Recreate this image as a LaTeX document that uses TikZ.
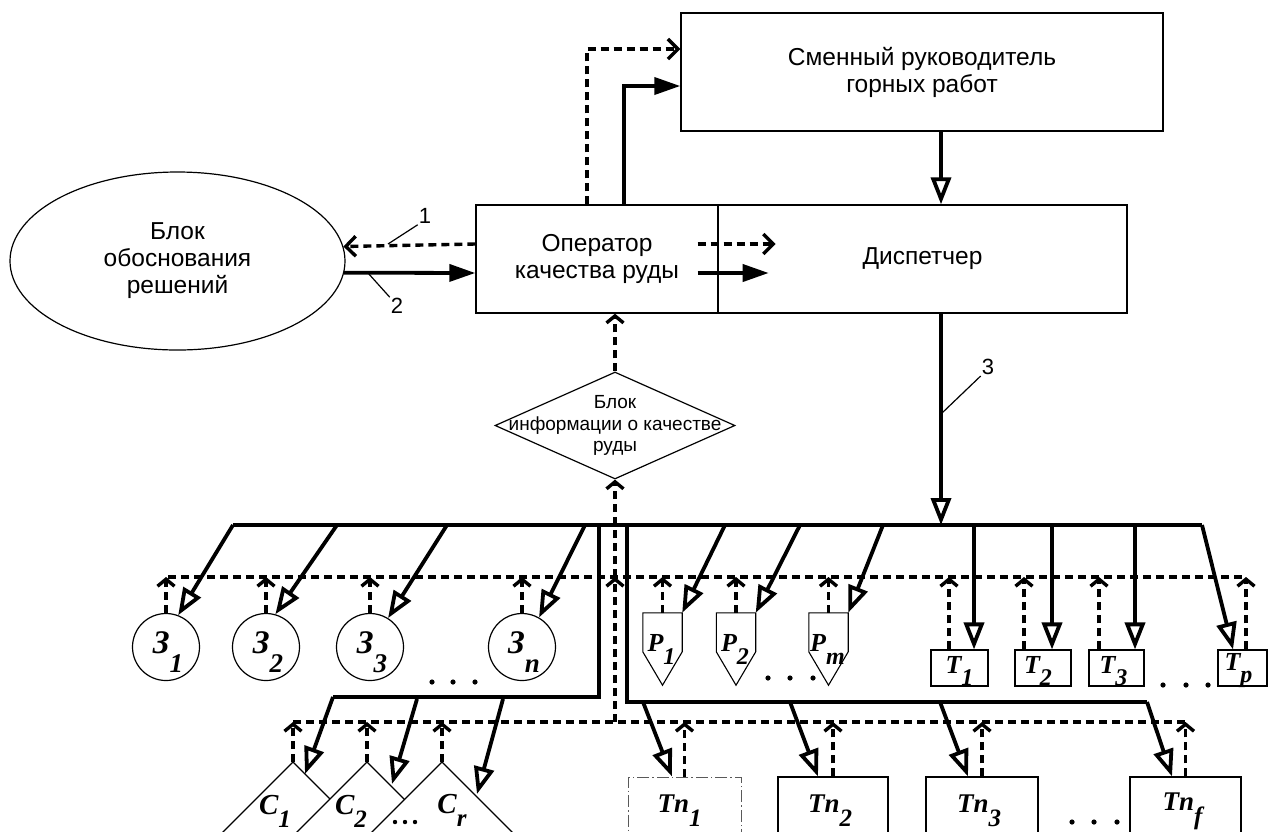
\documentclass[tikz,border=0pt]{standalone}
\usepackage{fontspec}
\setmainfont{Liberation Sans}
\newfontfamily\serif{Liberation Serif}
\usetikzlibrary{arrows.meta,shapes.geometric,calc}
\newcommand\txt{\fontsize{24.5}{27}\selectfont}
\newcommand\dtxt{\fontsize{19}{21.5}\selectfont}
\newcommand\sy[4]{#1\raisebox{-#3}{\fontsize{#4}{#4}\selectfont #2}}
\tikzset{
 box/.style={draw, line width=1.4pt, inner sep=0pt},
 thinbox/.style={draw, line width=1.1pt, inner sep=0pt},
 bus/.style={line width=3.8pt},
 dsh/.style={line width=3.4pt, dash pattern=on 8pt off 5pt},
 otip/.style={-{Triangle[open, length=27pt, width=20pt]}},
 ftip/.style={-{Triangle[length=26pt, width=17pt]}},
 chev/.style={-{Straight Barb[length=10pt, width=20pt]}},
 schev/.style={-{Straight Barb[length=7pt, width=17pt]}},
 lbl/.style={font=\serif\bfseries\itshape\fontsize{#1}{#1}\selectfont, inner sep=0pt},
 leader/.style={line width=1.2pt},
 circ/.style={draw, circle, line width=1.2pt, minimum size=67pt, inner sep=0pt},
 pshape/.style={minimum width=39pt, minimum height=72pt, inner sep=0pt},
}
\begin{document}
\begin{tikzpicture}[x=1pt,y=-1pt]
\useasboundingbox (0,0) rectangle (1268,831);
\clip (0,0) rectangle (1268,831);

% ---------- main blocks ----------
\node[box, minimum width=482pt, minimum height=118pt, align=center, font=\txt] (smr) at (922,72) {Сменный руководитель\\горных работ};
\node[box, minimum width=242pt, minimum height=108pt, align=center, font=\txt] (op) at (597,259) {Оператор\\качества руды};
\node[box, minimum width=409pt, minimum height=108pt, font=\txt] (disp) at (922.5,259) {Диспетчер};
\node[draw, ellipse, line width=1.2pt, minimum width=335pt, minimum height=178pt, inner sep=0pt, align=center, font=\txt] (blk) at (177.5,261) {Блок\\обоснования\\решений};
\node[draw, diamond, line width=1.2pt, minimum width=240pt, minimum height=107pt, inner sep=0pt,
  label={[align=center, font=\dtxt]center:{Блок\\информации о качестве\\руды}}] (info) at (615,425.5) {};

% ---------- bottom objects ----------
\foreach \n/\x/\s in {z1/166/1, z2/266/2, z3/370/3, zn/522/n}
  \node[circ, label={[lbl=33, xshift=2pt, yshift=-5pt]center:\sy{З}{\s}{19pt}{27}}] (\n) at (\x,647) {};

\foreach \n/\x/\s in {p1/662.5/1, p2/736/2, pm/828.5/m}{
  \node[pshape, label={[lbl=26, xshift=-1pt, yshift=0pt]center:\sy{P}{\s}{13pt}{24}}] (\n) at (\x,649) {};
  \draw[line width=1.1pt] (\n.north west) -- (\n.north east) -- ([yshift=-39pt]\n.north east) -- (\n.south) -- ([yshift=-39pt]\n.north west) -- cycle;
}

\node[thinbox, minimum width=57pt, minimum height=36pt, label={[lbl=26, yshift=-3pt]center:\sy{T}{1}{12pt}{24}}] (t1) at (959.5,668) {};
\node[thinbox, minimum width=56pt, minimum height=36pt, label={[lbl=26, xshift=-5pt, yshift=-3pt]center:\sy{T}{2}{12pt}{24}}] (t2) at (1043,668) {};
\node[thinbox, minimum width=55pt, minimum height=36pt, label={[lbl=26, xshift=-3pt, yshift=-3pt]center:\sy{T}{3}{12pt}{24}}] (t3) at (1116.5,668) {};
\node[thinbox, minimum width=49pt, minimum height=36pt, label={[lbl=26, xshift=-4pt, yshift=-3pt]center:\sy{T}{p}{12pt}{24}}] (tp) at (1242.5,668) {};

\node[draw=black!65, line width=1pt, dash pattern=on 12pt off 3pt on 1.5pt off 3pt, inner sep=0pt, minimum width=113pt, minimum height=68pt,
  label={[lbl=27, xshift=-5pt]center:\sy{Tn}{1}{14pt}{25}}] (tn1) at (684.5,811) {};
\node[thinbox, minimum width=110pt, minimum height=68pt, label={[lbl=27, xshift=-3pt]center:\sy{Tn}{2}{14pt}{25}}] (tn2) at (833,811) {};
\node[thinbox, minimum width=112pt, minimum height=68pt, label={[lbl=27, xshift=-3pt]center:\sy{Tn}{3}{14pt}{25}}] (tn3) at (982,811) {};
\node[thinbox, minimum width=111pt, minimum height=68pt, label={[lbl=27, xshift=-3pt]center:\sy{Tn}{f}{14pt}{25}}] (tnf) at (1185.5,811) {};

\coordinate (c1) at (293,762);
\coordinate (c2) at (367,762);
\coordinate (cr) at (442,762);
\foreach \c in {c1,c2,cr}
  \filldraw[fill=white, line width=1.1pt] (\c) -- ++(-120,120) -- ++(240,0) -- cycle;
\node[lbl=29] (lc1) at (275,811) {\sy{C}{1}{13pt}{25}};
\node[lbl=29] (lc2) at (351,811) {\sy{C}{2}{13pt}{25}};
\node[lbl=29] (lcr) at (452,810) {\sy{C}{r}{13pt}{25}};

% ---------- bus coordinates ----------
\coordinate (bL) at (233,525);
\coordinate (bR) at (1202,525);
\coordinate (dcol) at (941,525);
\coordinate (ub) at (168,577);
\coordinate (ubR) at (1246,577);
\coordinate (lb) at (293,722);
\coordinate (lbR) at (1185,722);
\coordinate (llT) at (599,525);
\coordinate (llB) at (599,697);
\coordinate (llL) at (333,697);
\coordinate (lrT) at (627,525);
\coordinate (lrB) at (627,702);
\coordinate (lrR) at (1147,702);
\coordinate (dj) at (615,722);

% ---------- top connectors ----------
\draw[dsh,chev] ([xshift=-10pt]op.north) |- ([yshift=23pt]smr.west);
\draw[bus,ftip] ([xshift=27pt]op.north) |- ([yshift=-14pt]smr.west);
\draw[bus,otip] (smr.south -| dcol) -- (disp.north -| dcol);
\draw[bus,otip] (disp.south -| dcol) -- (dcol);
\draw[dsh,chev] ([shift={(-21pt,15pt)}]op.east) -- ([shift={(57pt,15pt)}]op.east);
\draw[bus,ftip] ([shift={(-21pt,-14pt)}]op.east) -- ([shift={(50pt,-14pt)}]op.east);
\draw[dsh,chev] ([yshift=15pt]op.west) -- (blk.5.9);
\draw[bus,ftip] (blk.-4.1) -- ([yshift=-14pt]op.west);
\draw[dsh,schev] (info.north) -- (info.north |- op.south);

% labels 1 2 3
\node[font=\fontsize{22}{22}\selectfont, inner sep=1pt] (n1) at (425,216) {1};
\node[font=\fontsize{22}{22}\selectfont, inner sep=1pt] (n2) at (397,306) {2};
\node[font=\fontsize{22}{22}\selectfont, inner sep=1pt] (n3) at (988,367) {3};
\coordinate (l1) at (388,244);
\coordinate (l2) at (368,273);
\coordinate (l3) at (942,413);
\draw[leader] (l1) -- (n1.south west);
\draw[leader] (l2) -- (n2.north west);
\draw[leader] (l3) -- (n3.south west);

% ---------- buses ----------
\draw[bus] (bL) -- (bR);
\draw[bus] (llT) -- (llB) -- (llL);
\draw[bus] (lrT) -- (lrB) -- (lrR);

\draw[dsh] (ub) -- (ubR);
\draw[dsh] (lb) -- (lbR);
\draw[dsh,schev] (dj) -- (dj |- ub);
\draw[dsh,schev] (dj |- ub) -- (info.south);

% branches from main bus
\draw[bus,otip] (bL) -- (z1.69);
\foreach \n/\x/\a in {z2/337/74, z3/447/58, zn/585/60}{
  \coordinate (s-\n) at (\x,525);
  \draw[bus,otip] (s-\n) -- (\n.\a);
}
\foreach \n/\x in {p1/725, p2/800, pm/883}{
  \coordinate (s-\n) at (\x,525);
  \draw[bus,otip] (s-\n) -- (\n.north east);
}
\foreach \n/\x in {t1/974, t2/1052, t3/1135}{
  \coordinate (s-\n) at (\x,525);
  \draw[bus,otip] (s-\n) -- (s-\n |- \n.north);
}
\draw[bus,otip] (bR) -- ([xshift=-9.5pt]tp.north);

% branches from lower-left bus
\draw[bus,otip] (llL) -- ($(c1)+(12,12)$);
\coordinate (s-c2) at (417,699);
\coordinate (s-cr) at (503,699);
\draw[bus,otip] (s-c2) -- ($(c2)+(25,22)$);
\draw[bus,otip] (s-cr) -- ($(cr)+(35,32)$);

% branches from lower-right bus
\foreach \n/\x/\d in {tn1/643/-12.5, tn2/790/-15, tn3/940/-14}{
  \coordinate (s-\n) at (\x,702);
  \draw[bus,otip] (s-\n) -- ([xshift=\d pt]\n.north);
}
\draw[bus,otip] (lrR) -- ([xshift=-13.5pt]tnf.north);

% ---------- information (dashed) arrows ----------
\foreach \n in {z1,z2,z3,zn,p1,p2,pm}
  \draw[dsh,schev] (\n.north) -- (\n.north |- ub);
\foreach \n/\d in {t1/-10.5, t2/-19, t3/-17.5, tp/3.5}
  \draw[dsh,schev] ([xshift=\d pt]\n.north) -- ([xshift=\d pt]\n.north |- ub);
\foreach \n in {c1,c2,cr}
  \draw[dsh,schev] (\n) -- (\n |- lb);
\foreach \n in {tn1,tn2,tn3,tnf}
  \draw[dsh,schev] (\n.north) -- (\n.north |- lb);

% ---------- ellipsis dots ----------
\foreach \x in {432,453,475} \fill (\x,682) circle (2.6pt);
\foreach \x in {768,790,813} \fill (\x,678) circle (2.6pt);
\foreach \x in {1163,1186,1208} \fill (\x,685) circle (2.6pt);
\foreach \x in {1072,1094,1117} \fill (\x,822) circle (2.6pt);
\foreach \x in {395,405,415} \fill (\x,822) circle (2.2pt);
\end{tikzpicture}
\end{document}
